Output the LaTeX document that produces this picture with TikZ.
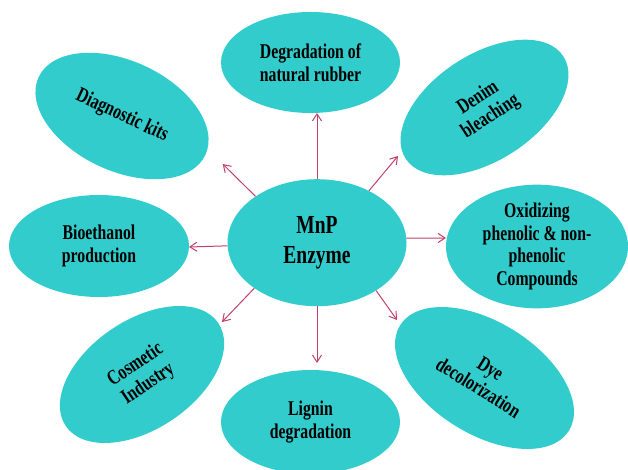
\documentclass[tikz,border=0pt]{standalone}
\usepackage{fontspec}
\setmainfont{Liberation Serif}[FakeStretch=0.75]
\usetikzlibrary{shapes.geometric,arrows.meta}
\definecolor{bubblecol}{RGB}{51,204,204}
\definecolor{arrowcol}{RGB}{192,64,108}
\begin{document}
\begin{tikzpicture}[x=1pt,y=1pt,
    bubble/.style={ellipse, fill=bubblecol, inner sep=0pt, align=center,
      font=\bfseries\fontsize{21}{22.8}\selectfont},
    arr/.style={draw=arrowcol, line width=1pt, -{Straight Barb[length=7pt,width=9pt]}}]
    \useasboundingbox (0,0) rectangle (628,-470);
    % centre
    \node[bubble, minimum width=179pt, minimum height=127pt,
      font=\bfseries\fontsize{26}{29.5}\selectfont] (mnp) at (317,-242.7) {MnP\\Enzyme};
    % uses around it
    \node[bubble, minimum width=179pt, minimum height=101pt] (rubber) at (310.5,-62.5) {Degradation of\\natural rubber};
    \node[bubble, minimum width=188pt, minimum height=106pt, rotate=33] (denim) at (484.5,-107.5) {Denim\\bleaching};
    \node[bubble, minimum width=182pt, minimum height=119pt] (oxid) at (537,-246.5) {Oxidizing\\phenolic \& non-\\phenolic\\Compounds};
    \node[bubble, minimum width=199pt, minimum height=112pt, rotate=-32] (dye) at (484.5,-378) {Dye\\decolorization};
    \node[bubble, minimum width=179pt, minimum height=104pt] (lignin) at (310.5,-422) {Lignin\\degradation};
    \node[bubble, minimum width=184pt, minimum height=109pt, rotate=34] (cosm) at (142,-374.5) {Cosmetic\\Industry};
    \node[bubble, minimum width=180pt, minimum height=102pt] (bio) at (99,-246) {Bioethanol\\production};
    \node[bubble, minimum width=184pt, minimum height=110pt, rotate=-25] (kits) at (122,-116) {Diagnostic kits};
    % arrow tips
    \coordinate (toRubber) at (317,-113);
    \coordinate (toDenim) at (398,-156);
    \coordinate (toOxid) at (446,-238);
    \coordinate (toDye) at (397,-320);
    \coordinate (toLignin) at (317,-363);
    \coordinate (toCosm) at (222,-322);
    \coordinate (toBio) at (189,-247);
    \coordinate (toKits) at (222.7,-164);
    \draw[arr] (mnp.90) -- (toRubber);
    \draw[arr] (mnp.45) -- (toDenim);
    \draw[arr] (mnp.3) -- (toOxid);
    \draw[arr] (mnp.-39) -- (toDye);
    \draw[arr] (mnp.270) -- (toLignin);
    \draw[arr] (mnp.216) -- (toCosm);
    \draw[arr] (mnp.182) -- (toBio);
    \draw[arr] (mnp.143) -- (toKits);
\end{tikzpicture}
\end{document}
